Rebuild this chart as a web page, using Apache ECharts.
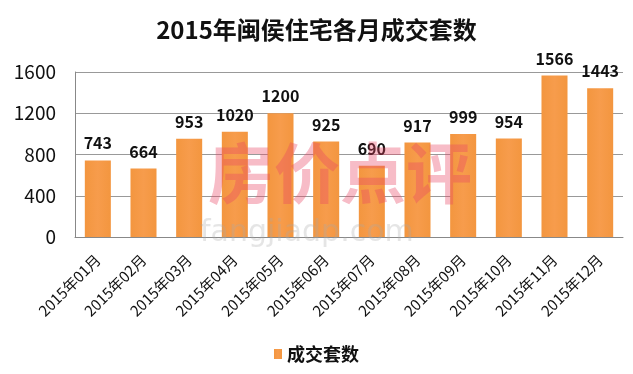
<!DOCTYPE html>
<html><head><meta charset="utf-8">
<script src="https://cdn.jsdelivr.net/npm/echarts@6/dist/echarts.min.js"></script>
<style>html,body{margin:0;padding:0;background:#fff}#c{width:633px;height:374px}</style>
</head><body><div id="c"></div>
<script>
var categories = ['2015年01月','2015年02月','2015年03月','2015年04月','2015年05月','2015年06月','2015年07月','2015年08月','2015年09月','2015年10月','2015年11月','2015年12月'];
var values = [743,664,953,1020,1200,925,690,917,999,954,1566,1443];
var seriesName = '成交套数';
var titleText = '2015年闽侯住宅各月成交套数';
var font = '"Noto Sans CJK SC", "Noto Sans", sans-serif';
var chart = echarts.init(document.getElementById('c'));
chart.setOption({
  animation: false,
  title: {text: titleText, left: 'center', top: 13, textStyle: {fontFamily: font, fontSize: 24, fontWeight: 'bold', color: '#111'}},
  graphic: [
    {type: 'text', left: 208, top: 140, z: 100, style: {text: '房价点评', font: 'bold 66px "Noto Sans CJK SC"', fill: 'rgba(232,70,100,0.36)'}},
    {type: 'text', left: 200, top: 218, z: 100, style: {text: 'fangjiadp.com', font: '30px "DejaVu Sans"', fill: 'rgba(170,170,170,0.3)'}}
  ],
  legend: {bottom: 6, left: 'center', itemWidth: 8, itemHeight: 10, icon: 'rect', textStyle: {fontFamily: font, fontSize: 18, fontWeight: 'bold', color: '#111'}, data: [seriesName]},
  grid: {left: 75, right: 10, top: 72, bottom: 137},
  xAxis: {type: 'category', data: categories,
    axisLine: {lineStyle: {color: '#888'}}, axisTick: {show: false},
    axisLabel: {rotate: 45, interval: 0, margin: 20, fontFamily: font, fontSize: 15, color: '#111'}},
  yAxis: {type: 'value', min: 0, max: 1600, interval: 400,
    axisLine: {show: true, lineStyle: {color: '#888'}},
    splitLine: {lineStyle: {color: '#999'}},
    axisLabel: {fontFamily: font, fontSize: 19, color: '#111', margin: 19, formatter: function (v) { return String(v); }}},
  series: [{name: seriesName, type: 'bar', data: values, barWidth: '57%',
    itemStyle: {color: new echarts.graphic.LinearGradient(0,0,1,0,[{offset:0,color:'#F3963F'},{offset:0.5,color:'#F79C4C'},{offset:1,color:'#F3963F'}])},
    label: {show: true, position: 'top', distance: 9, fontFamily: font, fontSize: 16, fontWeight: 'bold', color: '#111'}}]
});
</script></body></html>
